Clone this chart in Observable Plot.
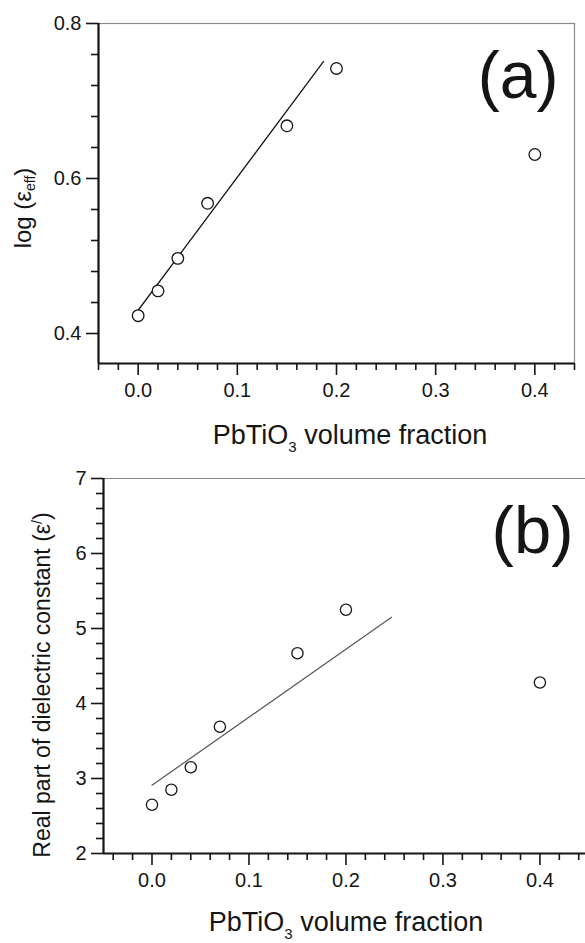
<!DOCTYPE html>
<html>
<head>
<meta charset="utf-8">
<script src="https://cdn.jsdelivr.net/npm/d3@7"></script>
<script src="https://cdn.jsdelivr.net/npm/@observablehq/plot@0.6"></script>
<style>
  html, body { margin: 0; padding: 0; background: #fff; }
  #wrap { position: relative; width: 585px; height: 943px; overflow: hidden; background: #fff; }
  #wrap svg { position: absolute; left: 0; }
</style>
</head>
<body>
<div id="wrap"></div>
<script>
// ---- data ----
const volumeFraction = [0, 0.02, 0.04, 0.07, 0.15, 0.2, 0.4];
const logEff = [0.423, 0.455, 0.497, 0.568, 0.668, 0.742, 0.631];
const realEps = [2.65, 2.85, 3.15, 3.69, 4.67, 5.25, 4.28];
const fitAx = [0, 0.187];
const fitAy = [0.43, 0.751];
const fitBx = [0, 0.247];
const fitBy = [2.91, 5.15];

const xMajor = [0, 0.1, 0.2, 0.3, 0.4];
const xMinorA = [-0.04, -0.02, 0.02, 0.04, 0.06, 0.08, 0.12, 0.14, 0.16, 0.18, 0.22, 0.24, 0.26, 0.28, 0.32, 0.34, 0.36, 0.38, 0.42, 0.44];
const yMajorA = [0.4, 0.6, 0.8];
const yMinorA = [0.44, 0.48, 0.52, 0.56, 0.64, 0.68, 0.72, 0.76];
const yMajorB = [2, 3, 4, 5, 6, 7];
const yMinorB = [2.2, 2.4, 2.6, 2.8, 3.2, 3.4, 3.6, 3.8, 4.2, 4.4, 4.6, 4.8, 5.2, 5.4, 5.6, 5.8, 6.2, 6.4, 6.6, 6.8];

const ptsA = volumeFraction.map((x, i) => ({x, y: logEff[i]}));
const ptsB = volumeFraction.map((x, i) => ({x, y: realEps[i]}));
const lineA = fitAx.map((x, i) => ({x, y: fitAy[i]}));
const lineB = fitBx.map((x, i) => ({x, y: fitBy[i]}));

const FONT = "Arial, 'Liberation Sans', Helvetica, sans-serif";
const INK = "#151515";
const style = {fontFamily: FONT, fontSize: "20px", color: INK, background: "transparent", overflow: "visible"};

const svgA = Plot.plot({
  width: 585, height: 470,
  marginTop: 23, marginBottom: 107, marginLeft: 98, marginRight: 11,
  x: {domain: [-0.04, 0.44], axis: null},
  y: {domain: [0.3613, 0.8], axis: null},
  style,
  marks: [
    Plot.frame({stroke: "#8a8a8a", strokeWidth: 1.2}),
    Plot.axisX({ticks: xMinorA, tickSize: 7, tickFormat: () => "", strokeWidth: 1.6, label: null}),
    Plot.axisX({ticks: xMajor, tickSize: 12, tickPadding: 7, tickFormat: d3.format(".1f"), strokeWidth: 1.6, label: null}),
    Plot.axisY({ticks: yMinorA, tickSize: 7, tickFormat: () => "", strokeWidth: 1.6, label: null}),
    Plot.axisY({ticks: yMajorA, tickSize: 12, tickPadding: 5, tickFormat: d3.format(".1f"), strokeWidth: 1.6, label: null}),
    Plot.ruleX([-0.04], {stroke: INK, strokeWidth: 2.2}),
    Plot.ruleY([0.3613], {stroke: INK, strokeWidth: 2.2}),
    Plot.line(lineA, {x: "x", y: "y", stroke: INK, strokeWidth: 1.3}),
    Plot.dot(ptsA, {x: "x", y: "y", r: 5.8, stroke: INK, strokeWidth: 1.3, fill: "white"}),
    Plot.text(["(a)"], {text: d => d, frameAnchor: "top-right", dx: -16, dy: 28, fontSize: 66, fill: INK})
  ]
});

const svgB = Plot.plot({
  width: 585, height: 473,
  marginTop: 8, marginBottom: 90, marginLeft: 103, marginRight: 0,
  x: {domain: [-0.05, 0.447], axis: null},
  y: {domain: [2, 7], axis: null},
  style,
  marks: [
    Plot.ruleY([7], {stroke: "#8a8a8a", strokeWidth: 1.2}),
    Plot.axisX({ticks: xMinorA, tickSize: 7, tickFormat: () => "", strokeWidth: 1.6, label: null}),
    Plot.axisX({ticks: xMajor, tickSize: 12, tickPadding: 7, tickFormat: d3.format(".1f"), strokeWidth: 1.6, label: null}),
    Plot.axisY({ticks: yMinorB, tickSize: 7, tickFormat: () => "", strokeWidth: 1.6, label: null}),
    Plot.axisY({ticks: yMajorB, tickSize: 12, tickPadding: 5, tickFormat: d3.format("d"), strokeWidth: 1.6, label: null}),
    Plot.ruleX([-0.05], {stroke: INK, strokeWidth: 2.2}),
    Plot.ruleY([2], {stroke: INK, strokeWidth: 2.2}),
    Plot.line(lineB, {x: "x", y: "y", stroke: "#555", strokeWidth: 1.2}),
    Plot.dot(ptsB, {x: "x", y: "y", r: 5.6, stroke: INK, strokeWidth: 1.3, fill: "white"}),
    Plot.text(["(b)"], {text: d => d, frameAnchor: "top-right", dx: -12, dy: 27, fontSize: 67, fill: INK})
  ]
});

const wrap = document.getElementById("wrap");
svgA.style.top = "0px";
svgB.style.top = "470px";
wrap.appendChild(svgA);
wrap.appendChild(svgB);

// enlarge numeric tick labels
for (const svg of [svgA, svgB]) {
  d3.select(svg).selectAll("text")
    .filter(function () { return /^[\d.]+$/.test(this.textContent.trim()); })
    .style("font-size", "20px").attr("fill", INK);
}

function xTitle(svg, cx, baseline) {
  const t = d3.select(svg).append("text")
    .attr("x", cx).attr("y", baseline)
    .attr("text-anchor", "middle")
    .attr("font-family", FONT).attr("font-size", 27).attr("fill", INK);
  t.append("tspan").text("PbTiO");
  t.append("tspan").attr("dy", 8).attr("font-size", 15).text("3");
  t.append("tspan").attr("dy", -8).text(" volume fraction");
}
xTitle(svgA, 350, 444);
xTitle(svgB, 346, 461);

// top y title
{
  const t = d3.select(svgA).append("text")
    .attr("transform", "translate(31,208) rotate(-90)")
    .attr("text-anchor", "middle")
    .attr("font-family", FONT).attr("font-size", 24).attr("fill", INK);
  t.append("tspan").text("log (ε");
  t.append("tspan").attr("dy", 4).attr("font-size", 14).text("eff");
  t.append("tspan").attr("dy", -4).text(")");
}
// bottom y title
{
  const t = d3.select(svgB).append("text")
    .attr("transform", "translate(50,215) rotate(-90)")
    .attr("text-anchor", "middle")
    .attr("font-family", FONT).attr("font-size", 23).attr("fill", INK);
  t.append("tspan").text("Real part of dielectric constant (ε");
  t.append("tspan").attr("dy", -8).attr("font-size", 14).text("/");
  t.append("tspan").attr("dy", 8).text(")");
}
</script>
</body>
</html>
